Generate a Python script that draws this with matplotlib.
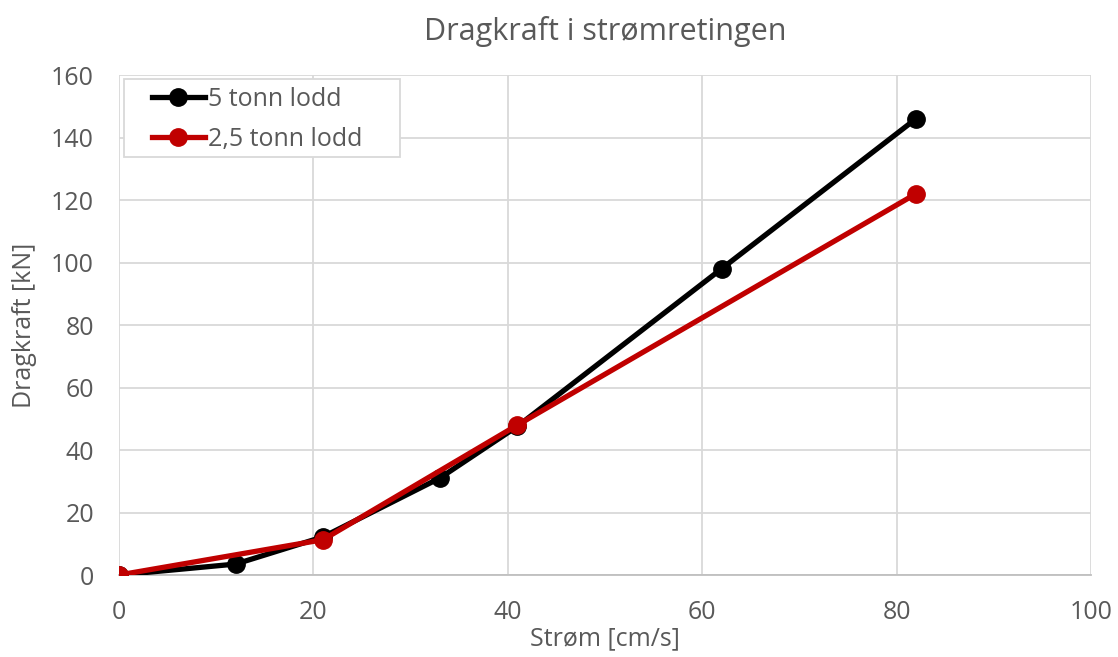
import matplotlib.pyplot as plt
from matplotlib.patches import Rectangle

# data
x_5t = [0, 12, 21, 33, 41, 62, 82]
y_5t = [0, 3.5, 12.2, 31, 47.6, 98, 146]
x_25t = [0, 21, 41, 82]
y_25t = [0, 11.3, 48, 122]

xticks = [0, 20, 40, 60, 80, 100]
yticks = [0, 20, 40, 60, 80, 100, 120, 140, 160]

TXT = "#595959"
GRID = "#d9d9d9"

plt.rcParams["font.family"] = ["Open Sans", "DejaVu Sans"]

fig = plt.figure(figsize=(11.18, 6.57), dpi=100)
ax = fig.add_axes([0.1064, 0.1248, 0.8694, 0.761])

ax.plot(x_5t, y_5t, color="black", lw=3.8, marker="o", ms=12.5, label="5 tonn lodd", zorder=3)
ax.plot(x_25t, y_25t, color="#c00000", lw=3.8, marker="o", ms=12.5, label="2,5 tonn lodd", zorder=4)

ax.set_xlim(0, 100)
ax.set_ylim(0, 160)
ax.set_xticks(xticks)
ax.set_yticks(yticks)
ax.grid(True, color=GRID, lw=1.3)
ax.set_axisbelow(True)
for s in ["top", "right", "left"]:
    ax.spines[s].set_visible(False)
ax.spines["bottom"].set_color("#bfbfbf")
ax.spines["bottom"].set_linewidth(1.3)
ax.tick_params(length=0, labelsize=18, colors=TXT)
ax.tick_params(axis="x", pad=18)
ax.tick_params(axis="y", pad=18)
for lab in ax.get_xticklabels() + ax.get_yticklabels():
    lab.set_clip_on(False)

ax.set_title("Dragkraft i strømretingen", fontsize=22, color=TXT, pad=25)
ax.set_xlabel("Strøm [cm/s]", fontsize=18, color=TXT, labelpad=1)
ax.set_ylabel("Dragkraft [kN]", fontsize=18, color=TXT, labelpad=10)

# legend frame drawn separately (wider side padding than Matplotlib's borderpad)
ax.add_patch(Rectangle((0.005, 0.836), 0.284, 0.156, transform=ax.transAxes,
                       facecolor="white", edgecolor=GRID, lw=1.3, zorder=5))
leg = ax.legend(loc="center left", bbox_to_anchor=(0.034, 0.912), fontsize=18,
                frameon=False, handlelength=2.1, borderpad=0, labelspacing=0.6,
                handletextpad=0.15, borderaxespad=0)
leg.set_zorder(6)
for t in leg.get_texts():
    t.set_color(TXT)

fig.savefig("out.png", dpi=100)
